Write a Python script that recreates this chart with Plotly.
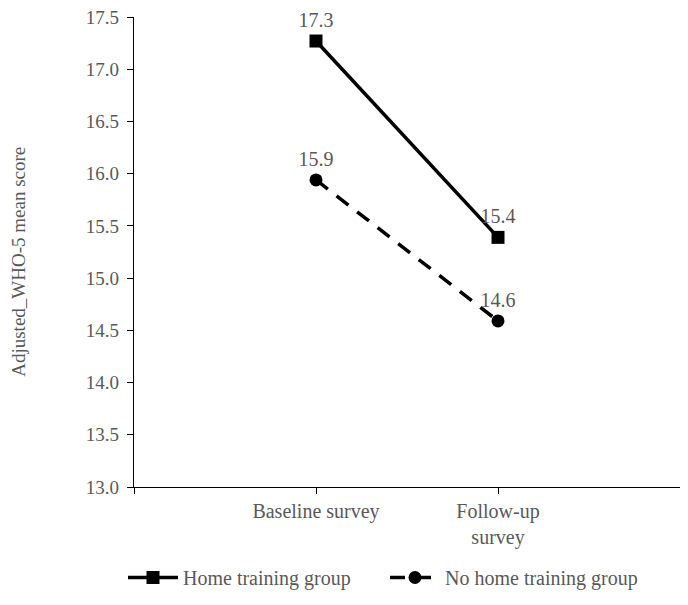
import plotly.graph_objects as go

categories = ["Baseline survey", "Follow-up<br>survey"]
x_pos = [0, 1]
home_training = [17.27, 15.39]
no_home_training = [15.94, 14.59]
y_ticks = [13.0, 13.5, 14.0, 14.5, 15.0, 15.5, 16.0, 16.5, 17.0, 17.5]
y_title = "Adjusted_WHO-5 mean score"

FONT = "Liberation Serif, Times New Roman, serif"
GREY = "#595959"

L, R, T, B = 126, 0, 9, 100
W, H = 672, 589
PW, PH = W - L - R, H - T - B

fig = go.Figure()
fig.add_trace(go.Scatter(
    x=x_pos, y=home_training, name="Home training group",
    mode="lines+markers+text", cliponaxis=False,
    line=dict(color="black", width=3.5),
    marker=dict(symbol="square", size=13, color="black"),
    texttemplate="%{y:.1f}", textposition="top center",
    textfont=dict(family=FONT, size=20, color=GREY),
))
fig.add_trace(go.Scatter(
    x=x_pos, y=no_home_training, name="No home training group",
    mode="lines+markers+text", cliponaxis=False,
    line=dict(color="black", width=3.5, dash="15px,11px"),
    marker=dict(symbol="circle", size=13, color="black"),
    texttemplate="%{y:.1f}", textposition="top center",
    textfont=dict(family=FONT, size=20, color=GREY),
))

fig.add_annotation(
    text=y_title, textangle=-90, showarrow=False,
    xref="paper", yref="paper",
    x=(11 - L) / PW, xanchor="center",
    y=(H - B - 259) / PH, yanchor="middle",
    font=dict(family=FONT, size=19, color=GREY),
)

fig.update_layout(
    width=W, height=H,
    margin=dict(l=L, r=R, t=T, b=B),
    paper_bgcolor="white", plot_bgcolor="white",
    font=dict(family=FONT, size=19, color=GREY),
    showlegend=True,
    legend=dict(orientation="h", x=(115 - L) / PW, xanchor="left",
                y=(H - B - 582) / PH, yanchor="middle",
                font=dict(family=FONT, size=20, color=GREY),
                itemwidth=50, entrywidth=197, traceorder="normal"),
    xaxis=dict(
        range=[-1, 2], tickmode="array",
        tickvals=[-1, 0, 1, 2], ticktext=["", categories[0], categories[1], ""],
        showline=True, linecolor="black", linewidth=1.3,
        ticks="outside", ticklen=6, tickcolor="black", tickwidth=1.3,
        showgrid=False, zeroline=False, automargin=False,
        tickfont=dict(family=FONT, size=20, color=GREY),
    ),
    yaxis=dict(
        range=[13.0, 17.5], tickmode="array", tickvals=y_ticks,
        ticktext=[f"{v:.1f}" for v in y_ticks],
        showline=True, linecolor="black", linewidth=1.3,
        ticks="outside", ticklen=6, tickcolor="black", tickwidth=1.3,
        showgrid=False, zeroline=False, automargin=False,
        ticklabelstandoff=4, ticklabeloverflow="allow",
        tickfont=dict(family=FONT, size=19, color=GREY),
    ),
)

fig.write_html("out.html", config={"displayModeBar": False})
